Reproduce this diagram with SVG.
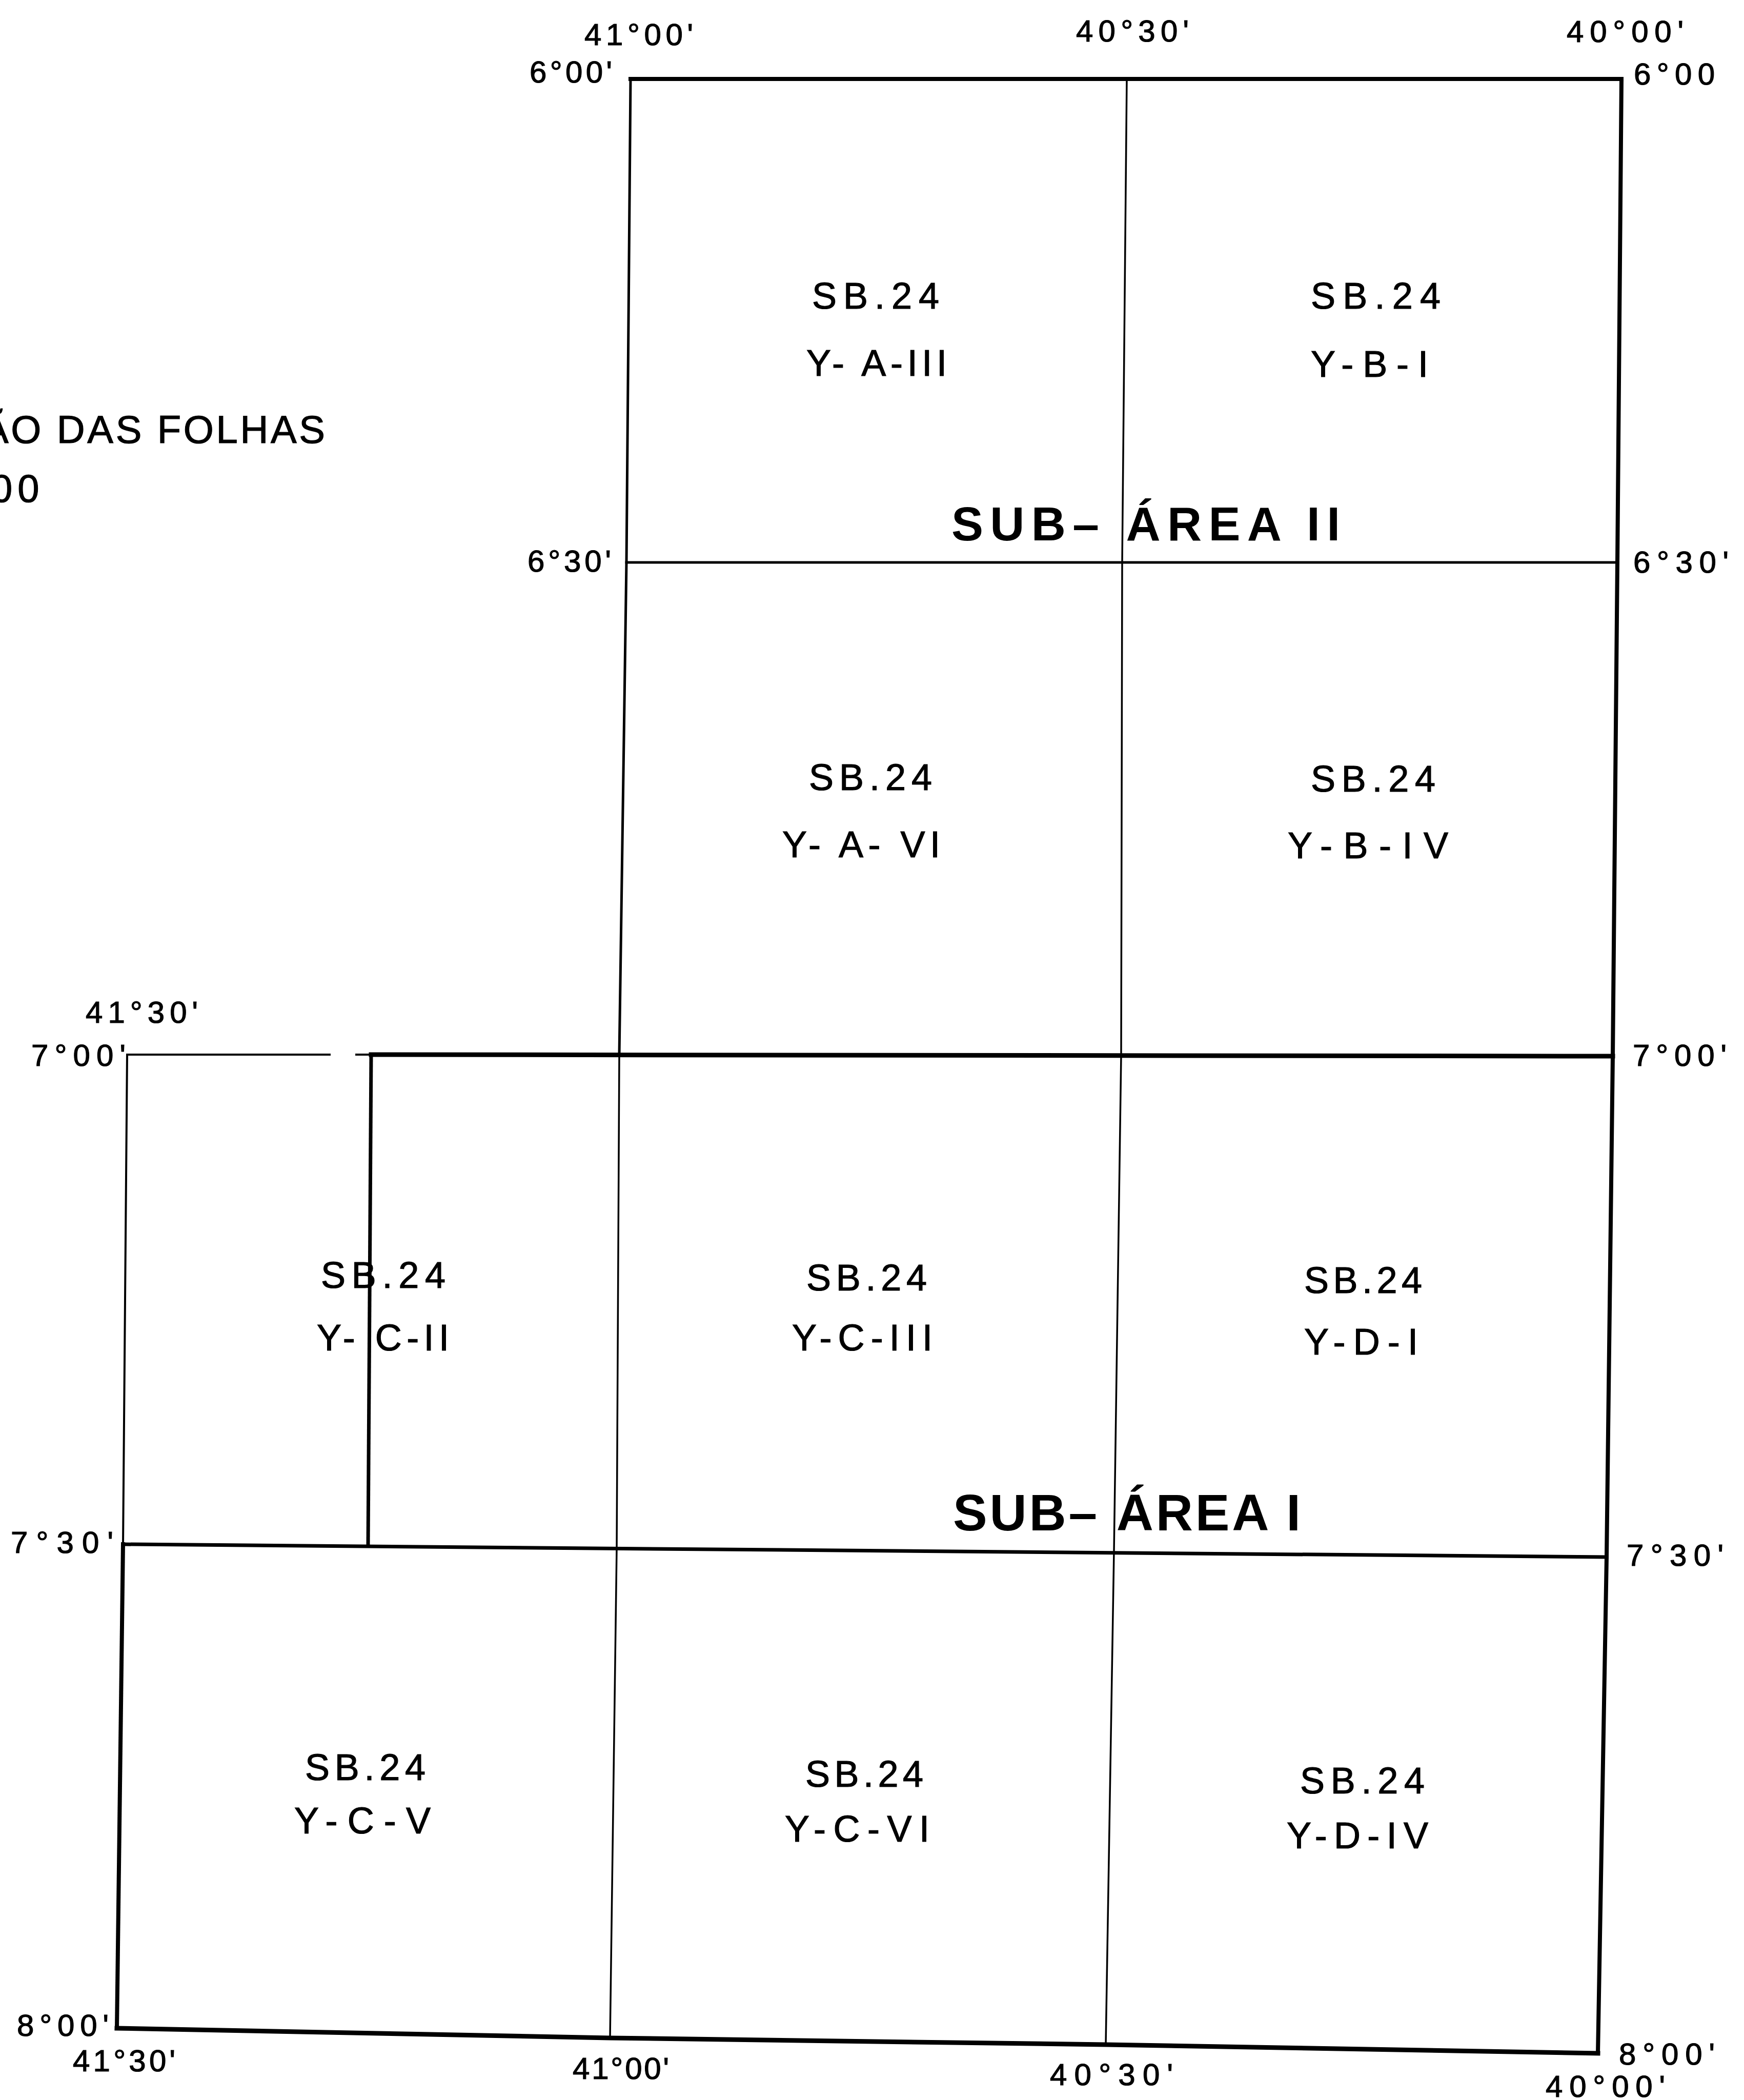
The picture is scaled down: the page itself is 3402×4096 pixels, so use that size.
<svg xmlns="http://www.w3.org/2000/svg" width="3402" height="4096" viewBox="0 0 3402 4096">
<style>
.ln{fill:none;stroke:#000;stroke-linecap:square;stroke-linejoin:miter}
.thin{stroke-width:3.5}
.med{stroke-width:5}
.thk{stroke-width:8}
.deg{font-family:"Liberation Sans",Arial,sans-serif;font-size:60px;fill:#000;stroke:#000;stroke-width:1.2}
.cell{font-family:"Liberation Sans",Arial,sans-serif;font-size:72px;fill:#000;stroke:#000;stroke-width:1.2}
.sub{font-family:"Liberation Sans",Arial,sans-serif;font-weight:bold;fill:#000}
.title{font-family:"Liberation Sans",Arial,sans-serif;font-size:76px;fill:#000;stroke:#000;stroke-width:1.2}
</style>
<rect width="3402" height="4096" fill="#fff"/>

<g id="title">
<text class="title" x="-34" y="864" textLength="668" lengthAdjust="spacing">ÃO DAS FOLHAS</text>
<text class="title" x="-18" y="979" letter-spacing="10">00</text>
</g>

<g id="grid">
<!-- top line 6°00' -->
<polyline class="ln thk" points="1230,154 3163,154"/>
<!-- right edge 40°00' -->
<polyline class="ln thk" points="3163,154 3155,1097 3146,2060 3134,3037 3117,4005"/>
<!-- 41°00' meridian -->
<polyline class="ln med" points="1230,154 1222,1097 1208,2057"/>
<polyline class="ln thin" points="1208,2057 1203,3019 1190,3975"/>
<!-- 40°30' meridian -->
<polyline class="ln thin" points="2198,154 2189,1097 2187,2058 2173,3026 2157,3988"/>
<!-- 6°30' parallel -->
<polyline class="ln med" points="1222,1097 3155,1097"/>
<!-- 7°00' parallel -->
<polyline class="ln" stroke-width="4" points="248,2057 643,2057"/>
<polyline class="ln" stroke-width="4" points="695,2057 724,2057"/>
<polyline class="ln" stroke-width="9" points="724,2057 3146,2060"/>
<!-- left block edges -->
<polyline class="ln" stroke-width="4" points="248,2057 240,3012"/>
<polyline class="ln" stroke-width="7" points="724,2057 718,3012"/>
<polyline class="ln thk" points="240,3012 228,3956"/>
<!-- 7°30' parallel -->
<polyline class="ln" stroke-width="7" points="240,3012 3134,3037"/>
<!-- bottom 8°00' -->
<polyline class="ln" stroke-width="9" points="228,3956 1190,3975 2157,3988 3117,4005"/>
</g>

<g id="degree-labels">
<text class="deg" x="1140" y="88" textLength="212" lengthAdjust="spacing">41°00'</text>
<text class="deg" x="1033" y="161" textLength="161" lengthAdjust="spacing">6°00'</text>
<text class="deg" x="2099" y="81" textLength="220" lengthAdjust="spacing">40°30'</text>
<text class="deg" x="3056" y="82" textLength="228" lengthAdjust="spacing">40°00'</text>
<text class="deg" x="3187" y="165" textLength="158" lengthAdjust="spacing">6°00</text>
<text class="deg" x="1029" y="1115" textLength="163" lengthAdjust="spacing">6°30'</text>
<text class="deg" x="3186" y="1117" textLength="186" lengthAdjust="spacing">6°30'</text>
<text class="deg" x="167" y="1995" textLength="219" lengthAdjust="spacing">41°30'</text>
<text class="deg" x="61" y="2079" textLength="184" lengthAdjust="spacing">7°00'</text>
<text class="deg" x="3185" y="2079" textLength="183" lengthAdjust="spacing">7°00'</text>
<text class="deg" x="21" y="3029" textLength="200" lengthAdjust="spacing">7°30'</text>
<text class="deg" x="3173" y="3054" textLength="189" lengthAdjust="spacing">7°30'</text>
<text class="deg" x="33" y="3971" textLength="179" lengthAdjust="spacing">8°00'</text>
<text class="deg" x="142" y="4040" textLength="200" lengthAdjust="spacing">41°30'</text>
<text class="deg" x="1117" y="4055" textLength="188" lengthAdjust="spacing">41°00'</text>
<text class="deg" x="2048" y="4067" textLength="240" lengthAdjust="spacing">40°30'</text>
<text class="deg" x="3158" y="4027" textLength="187" lengthAdjust="spacing">8°00'</text>
<text class="deg" x="3015" y="4090" textLength="233" lengthAdjust="spacing">40°00'</text>
</g>

<g id="sheet-Y-A-III">
<text class="cell" x="1584" y="602" textLength="248" lengthAdjust="spacing">SB.24</text>
<text class="cell" x="1573" y="733" textLength="274" lengthAdjust="spacing">Y- A-III</text>
</g>
<g id="sheet-Y-B-I">
<text class="cell" x="2557" y="602" textLength="253" lengthAdjust="spacing">SB.24</text>
<text class="cell" x="2557" y="735" textLength="229" lengthAdjust="spacing">Y-B-I</text>
</g>
<g id="sheet-Y-A-VI">
<text class="cell" x="1578" y="1541" textLength="240" lengthAdjust="spacing">SB.24</text>
<text class="cell" x="1526" y="1672" textLength="308" lengthAdjust="spacing">Y- A- VI</text>
</g>
<g id="sheet-Y-B-IV">
<text class="cell" x="2557" y="1544" textLength="243" lengthAdjust="spacing">SB.24</text>
<text class="cell" x="2512" y="1674" textLength="313" lengthAdjust="spacing">Y-B-IV</text>
</g>
<g id="sheet-Y-C-II">
<text class="cell" x="626" y="2512" textLength="243" lengthAdjust="spacing">SB.24</text>
<text class="cell" x="618" y="2634" textLength="258" lengthAdjust="spacing">Y- C-II</text>
</g>
<g id="sheet-Y-C-III">
<text class="cell" x="1573" y="2517" textLength="235" lengthAdjust="spacing">SB.24</text>
<text class="cell" x="1545" y="2634" textLength="274" lengthAdjust="spacing">Y-C-III</text>
</g>
<g id="sheet-Y-D-I">
<text class="cell" x="2544" y="2522" textLength="230" lengthAdjust="spacing">SB.24</text>
<text class="cell" x="2544" y="2642" textLength="222" lengthAdjust="spacing">Y-D-I</text>
</g>
<g id="sheet-Y-C-V">
<text class="cell" x="595" y="3472" textLength="235" lengthAdjust="spacing">SB.24</text>
<text class="cell" x="574" y="3576" textLength="266" lengthAdjust="spacing">Y-C-V</text>
</g>
<g id="sheet-Y-C-VI">
<text class="cell" x="1571" y="3485" textLength="230" lengthAdjust="spacing">SB.24</text>
<text class="cell" x="1531" y="3592" textLength="282" lengthAdjust="spacing">Y-C-VI</text>
</g>
<g id="sheet-Y-D-IV">
<text class="cell" x="2536" y="3498" textLength="243" lengthAdjust="spacing">SB.24</text>
<text class="cell" x="2510" y="3605" textLength="276" lengthAdjust="spacing">Y-D-IV</text>
</g>

<g id="sub-area-II">
<text class="sub" x="1856" y="1054" font-size="93" textLength="758" lengthAdjust="spacing">SUB– ÁREA II</text>
</g>
<g id="sub-area-I">
<text class="sub" x="1859" y="2985" font-size="100" textLength="678" lengthAdjust="spacing">SUB– ÁREA I</text>
</g>
</svg>
